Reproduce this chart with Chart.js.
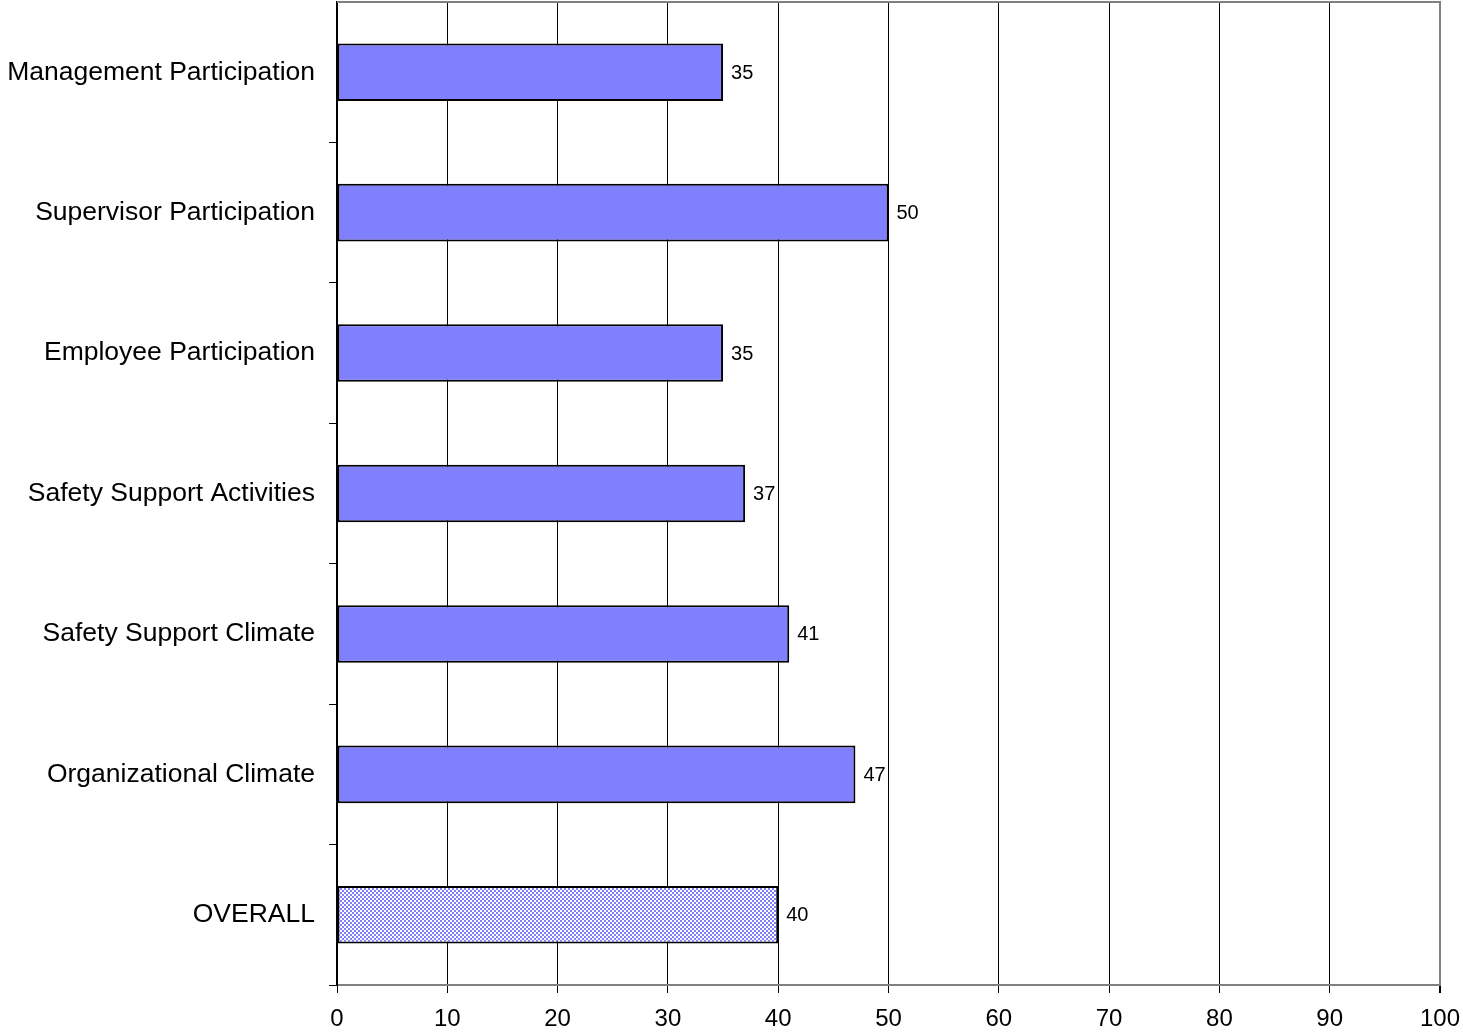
<!DOCTYPE html>
<html>
<head>
<meta charset="utf-8">
<script src="https://cdn.jsdelivr.net/npm/chart.js@4.4.1/dist/chart.umd.min.js"></script>
<style>
  html, body { margin: 0; padding: 0; background: #fff; }
  #wrap { width: 1463px; height: 1036px; }
</style>
</head>
<body>
<div id="wrap"><canvas id="barChart" width="1463" height="1036"></canvas></div>
<script>
// данные графика
const categories = [
    'Management Participation',
    'Supervisor Participation',
    'Employee Participation',
    'Safety Support Activities',
    'Safety Support Climate',
    'Organizational Climate',
    'OVERALL'
];
const scores = [35, 50, 35, 37, 41, 47, 40];
const xTicks = [0, 10, 20, 30, 40, 50, 60, 70, 80, 90, 100];

const FONT = '"Liberation Sans", Arial, sans-serif';

// клетчатая заливка для OVERALL
function makeChecker() {
    const c = document.createElement('canvas');
    c.width = 4; c.height = 4;
    const g = c.getContext('2d');
    g.fillStyle = '#ffffff';
    g.fillRect(0, 0, 4, 4);
    g.fillStyle = '#8080ff';
    g.fillRect(0, 0, 2, 2);
    g.fillRect(2, 2, 2, 2);
    return g.createPattern(c, 'repeat');
}
const checker = makeChecker();

// подписи значений справа от столбцов
const valueLabels = {
    id: 'valueLabels',
    afterDatasetsDraw(chart) {
        const ctx = chart.ctx;
        const meta = chart.getDatasetMeta(0);
        ctx.save();
        ctx.font = '20px ' + FONT;
        ctx.fillStyle = '#000';
        ctx.textAlign = 'left';
        ctx.textBaseline = 'middle';
        meta.data.forEach((bar, i) => {
            ctx.fillText(String(scores[i]), bar.x + 8, bar.y + 1);
        });
        ctx.restore();
    }
};

// серая рамка сверху и справа
const plotFrame = {
    id: 'plotFrame',
    afterDraw(chart) {
        const a = chart.chartArea;
        const ctx = chart.ctx;
        ctx.save();
        ctx.strokeStyle = '#808080';
        ctx.lineWidth = 2;
        ctx.beginPath();
        ctx.moveTo(a.left, a.top);
        ctx.lineTo(a.right, a.top);
        ctx.lineTo(a.right, a.bottom);
        ctx.stroke();
        ctx.restore();
    }
};

const ctx = document.getElementById('barChart').getContext('2d');
new Chart(ctx, {
    type: 'bar',
    data: {
        labels: categories,
        datasets: [{
            data: scores,
            backgroundColor: scores.map((v, i) => i === scores.length - 1 ? checker : '#8080ff'),
            borderColor: '#000000',
            borderWidth: 2,
            borderSkipped: false,
            barPercentage: 0.41,
            categoryPercentage: 1.0
        }]
    },
    options: {
        indexAxis: 'y',
        responsive: false,
        animation: false,
        layout: { padding: { top: 2, right: 23, left: 0, bottom: 0 } },
        plugins: {
            legend: { display: false },
            tooltip: { enabled: false }
        },
        scales: {
            x: {
                min: 0,
                max: 100,
                afterBuildTicks: axis => { axis.ticks = xTicks.map(v => ({ value: v })); },
                afterFit: axis => {
                    axis.height = 51;
                    axis.paddingLeft = 0;
                    axis.paddingRight = 0;
                },
                grid: {
                    color: c => c.tick && c.tick.value === 100 ? '#808080' : '#000000',
                    lineWidth: c => c.tick && c.tick.value === 100 ? 2 : 1,
                    tickColor: '#000000',
                    tickLength: 8,
                    drawTicks: true
                },
                border: { color: '#808080', width: 2 },
                ticks: {
                    color: '#000',
                    padding: 12,
                    maxRotation: 0,
                    font: { family: FONT, size: 24 }
                }
            },
            y: {
                afterFit: axis => {
                    axis.width = 337;
                    axis.paddingTop = 0;
                    axis.paddingBottom = 0;
                },
                grid: {
                    offset: true,
                    drawOnChartArea: false,
                    tickLength: 8,
                    tickColor: c => c.index === 0 ? 'rgba(0,0,0,0)' : '#000000'
                },
                border: { color: '#000000', width: 2 },
                ticks: {
                    color: '#000',
                    padding: 14,
                    font: { family: FONT, size: 26.5 }
                }
            }
        }
    },
    plugins: [valueLabels, plotFrame]
});
</script>
</body>
</html>
